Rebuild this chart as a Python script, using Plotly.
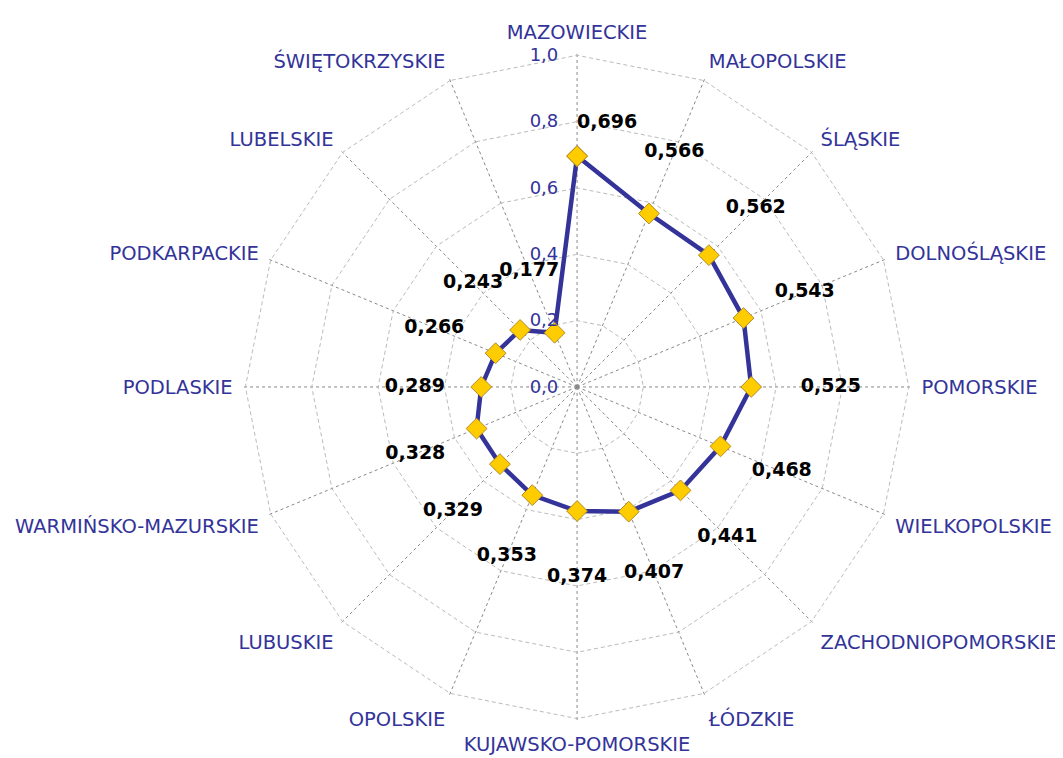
import plotly.graph_objects as go

regions = ["MAZOWIECKIE", "MAŁOPOLSKIE", "ŚLĄSKIE", "DOLNOŚLĄSKIE", "POMORSKIE",
           "WIELKOPOLSKIE", "ZACHODNIOPOMORSKIE", "ŁÓDZKIE", "KUJAWSKO-POMORSKIE",
           "OPOLSKIE", "LUBUSKIE", "WARMIŃSKO-MAZURSKIE", "PODLASKIE", "PODKARPACKIE",
           "LUBELSKIE", "ŚWIĘTOKRZYSKIE"]
values = [0.696, 0.566, 0.562, 0.543, 0.525, 0.468, 0.441, 0.407, 0.374,
          0.353, 0.329, 0.328, 0.289, 0.266, 0.243, 0.177]
radial_ticks = [0.0, 0.2, 0.4, 0.6, 0.8, 1.0]
radial_ticktext = ["0,0", "0,2", "0,4", "0,6", "0,8", "1,0"]

labels = [f"{v:.3f}".replace(".", ",") for v in values]

BLUE = "#333399"

fig = go.Figure()
fig.add_trace(go.Scatterpolar(
    r=values + values[:1], theta=regions + regions[:1],
    mode="lines+markers",
    line=dict(color=BLUE, width=4.5),
    marker=dict(symbol="diamond", size=16, color="#FFCC00",
                line=dict(color="#B08A2A", width=1)),
    hoverinfo="skip", showlegend=False,
))

# data labels placed outward along each spoke
lab_r = [v + 0.2 for v in values]
lab_pos = ["middle center"] * len(values)
lab_r[0] = values[0] + 0.1
lab_pos[0] = "middle right"
lab_r[4] = values[4] + 0.24
fig.add_trace(go.Scatterpolar(
    r=lab_r, theta=regions, mode="text", text=labels,
    textposition=lab_pos,
    textfont=dict(family="DejaVu Sans", size=19, color="black", weight="bold"),
    hoverinfo="skip", showlegend=False,
))

fig.update_layout(
    width=1063, height=758,
    margin=dict(l=0, r=0, t=0, b=0),
    paper_bgcolor="white",
    showlegend=False,
    polar=dict(
        domain=dict(x=[0.2202, 0.8505], y=[0.0581, 0.9420]),
        bgcolor="white",
        gridshape="linear",
        radialaxis=dict(
            range=[0, 1.01], tickvals=radial_ticks, ticktext=radial_ticktext,
            angle=90, tickangle=90, side="counterclockwise",
            showline=False, ticks="outside", ticklen=12, tickcolor="rgba(0,0,0,0)",
            tickfont=dict(family="DejaVu Sans", size=18, color=BLUE),
            gridcolor="#BBBBBB", gridwidth=1, griddash="4px,3px",
        ),
        angularaxis=dict(
            direction="clockwise", rotation=90,
            showline=False,
            ticks="outside", ticklen=5, tickcolor="rgba(0,0,0,0)",
            tickfont=dict(family="DejaVu Sans", size=19.5, color=BLUE),
            gridcolor="#888888", gridwidth=1, griddash="3px,3px",
        ),
    ),
)

fig.write_html("out.html")
